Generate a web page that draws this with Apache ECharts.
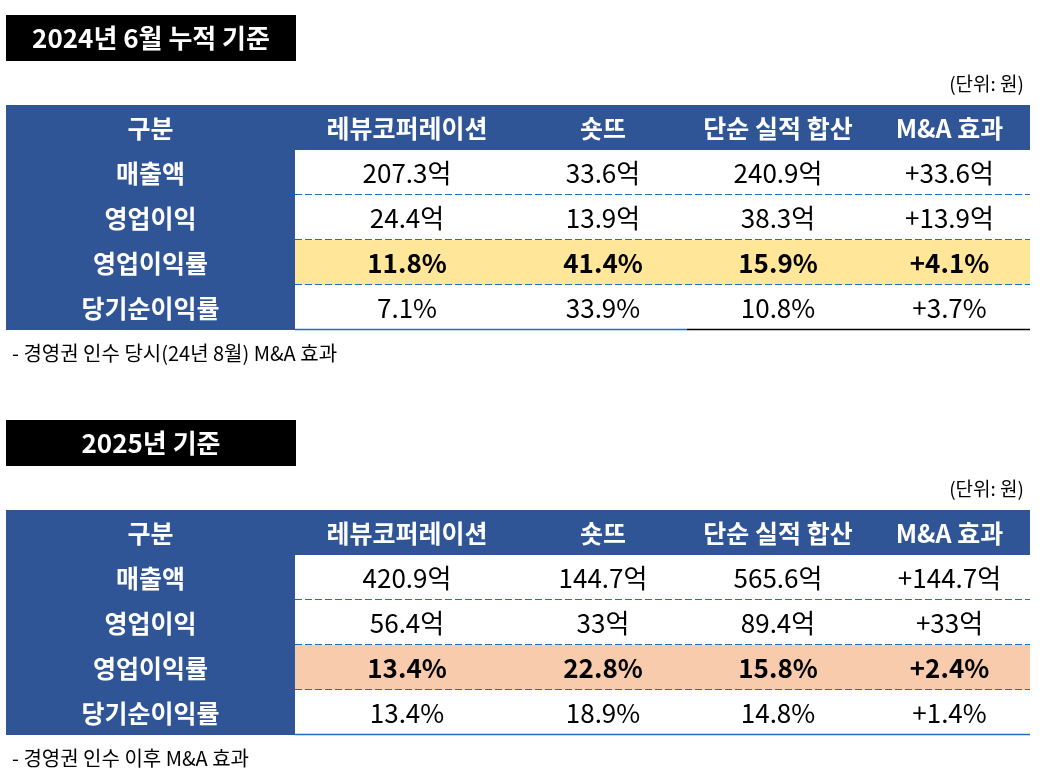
<!DOCTYPE html>
<html>
<head>
<meta charset="utf-8">
<script src="https://cdn.jsdelivr.net/npm/echarts@6/dist/echarts.min.js"></script>
<style>
html, body { margin: 0; padding: 0; background: #fff; }
#main { width: 1050px; height: 778px; }
</style>
</head>
<body>
<div id="main"></div>
<script>
// ---- data ----
var columns = ['구분', '레뷰코퍼레이션', '숏뜨', '단순 실적 합산', 'M&A 효과'];
var rowNames = ['매출액', '영업이익', '영업이익률', '당기순이익률'];
var rowUnits = ['억', '억', '%', '%'];

// 2024년 6월 누적 : [레뷰코퍼레이션, 숏뜨, 단순 실적 합산, M&A 효과]
var sales2024 = [207.3, 33.6, 240.9, 33.6];
var opProfit2024 = [24.4, 13.9, 38.3, 13.9];
var opMargin2024 = [11.8, 41.4, 15.9, 4.1];
var netMargin2024 = [7.1, 33.9, 10.8, 3.7];

// 2025년
var sales2025 = [420.9, 144.7, 565.6, 144.7];
var opProfit2025 = [56.4, 33, 89.4, 33];
var opMargin2025 = [13.4, 22.8, 15.8, 2.4];
var netMargin2025 = [13.4, 18.9, 14.8, 1.4];

var titles = ['2024년 6월 누적 기준', '2025년 기준'];
var notes = ['- 경영권 인수 당시(24년 8월) M&A 효과', '- 경영권 인수 이후 M&A 효과'];
var unitText = '(단위: 원)';

// ---- layout ----
var FONT = '"Noto Sans CJK KR", "Noto Sans", sans-serif';
var headBlue = '#2F5597';
var dashBlue = '#1F6FBF';
var colEdges = [0, 289, 513, 681, 863, 1024];   // column borders in table units
var tables = [
    { top: 105, rows: [sales2024, opProfit2024, opMargin2024, netMargin2024],
      highlight: '#FFE699', bottomColors: [null, dashBlue, dashBlue, '#000', '#000'] },
    { top: 510, rows: [sales2025, opProfit2025, opMargin2025, netMargin2025],
      highlight: '#F8CBAD', bottomColors: [null, dashBlue, dashBlue, dashBlue, dashBlue] }
];

function fmt(v, r, c) {
    return (c === 3 ? '+' : '') + v + rowUnits[r];
}

function buildCells(t) {
    var cells = [];
    for (var c = 0; c < columns.length; c++) {
        cells.push({ value: [c, 0], kind: 'head', text: columns[c] });
    }
    for (var r = 0; r < rowNames.length; r++) {
        cells.push({ value: [0, r + 1], kind: 'label', text: rowNames[r] });
        for (var k = 0; k < 4; k++) {
            cells.push({ value: [k + 1, r + 1], kind: 'data', text: fmt(t.rows[r][k], r, k) });
        }
    }
    return cells;
}

function makeRender(t, cells) {
    return function (params, api) {
        var cell = cells[params.dataIndex];
        var c = api.value(0), r = api.value(1);
        var h = api.size([0, 1])[1];
        var yc = api.coord([0, r])[1];
        var x0 = api.coord([colEdges[c], r])[0];
        var x1 = api.coord([colEdges[c + 1], r])[0];
        var xEnd = api.coord([colEdges[colEdges.length - 1], r])[0];
        var y0 = yc - h / 2, y1 = yc + h / 2;
        var yLine = Math.round(y1) - 0.5;
        var hl = cell.kind === 'data' && r === 3;
        var fill = cell.kind === 'data' ? (hl ? t.highlight : '#fff') : headBlue;
        var children = [{
            type: 'rect',
            shape: { x: x0, y: y0, width: x1 - x0, height: h },
            style: { fill: fill }
        }, {
            type: 'text',
            z2: 50,
            style: {
                text: cell.text, x: (x0 + x1) / 2, y: yc + 1,
                align: 'center', verticalAlign: 'middle',
                fill: cell.kind === 'data' ? '#000' : '#fff',
                fontFamily: FONT,
                fontSize: cell.kind === 'data' ? 26 : 25,
                fontWeight: (cell.kind === 'data' && !hl) ? 'normal' : 'bold'
            }
        }];
        if (cell.kind === 'label' && r < 4) {
            children.push({
                type: 'line',
                z2: 100,
                shape: { x1: x1, y1: yLine, x2: xEnd, y2: yLine },
                style: { stroke: dashBlue, lineWidth: 1, lineDash: [7, 3] }
            });
        }
        if (cell.kind === 'data' && r === 4) {
            children.push({
                type: 'line',
                z2: 100,
                shape: { x1: x0, y1: yLine, x2: x1, y2: yLine },
                style: { stroke: t.bottomColors[c], lineWidth: 1.5 }
            });
        }
        return { type: 'group', children: children };
    };
}

var grids = [], xAxes = [], yAxes = [], series = [], graphics = [];
tables.forEach(function (t, i) {
    var cells = buildCells(t);
    grids.push({ left: 6, top: t.top, width: 1024, height: 225 });
    xAxes.push({ type: 'value', gridIndex: i, min: 0, max: 1024, show: false });
    yAxes.push({ type: 'category', gridIndex: i, inverse: true, show: false,
                 data: ['header'].concat(rowNames) });
    series.push({
        type: 'custom', xAxisIndex: i, yAxisIndex: i, clip: false,
        data: cells, renderItem: makeRender(t, cells)
    });
    // title box, unit and footnote
    var boxTop = t.top - 90;
    graphics.push({
        type: 'rect', left: 6, top: boxTop,
        shape: { width: 290, height: 46 }, style: { fill: '#000' }
    });
    graphics.push({
        type: 'text', x: 151, y: boxTop + 23,
        style: { text: titles[i], align: 'center', verticalAlign: 'middle',
                 fill: '#fff', fontFamily: FONT, fontSize: 26, fontWeight: 'bold' }
    });
    graphics.push({
        type: 'text', x: 1024, y: t.top - 21,
        style: { text: unitText, align: 'right', verticalAlign: 'middle',
                 fill: '#000', fontFamily: FONT, fontSize: 19 }
    });
    graphics.push({
        type: 'text', x: 12, y: t.top + 248,
        style: { text: notes[i], align: 'left', verticalAlign: 'middle',
                 fill: '#000', fontFamily: FONT, fontSize: 20 }
    });
});

var myChart = echarts.init(document.getElementById('main'));
myChart.setOption({
    animation: false,
    backgroundColor: '#fff',
    grid: grids,
    xAxis: xAxes,
    yAxis: yAxes,
    series: series,
    graphic: graphics
});
</script>
</body>
</html>
